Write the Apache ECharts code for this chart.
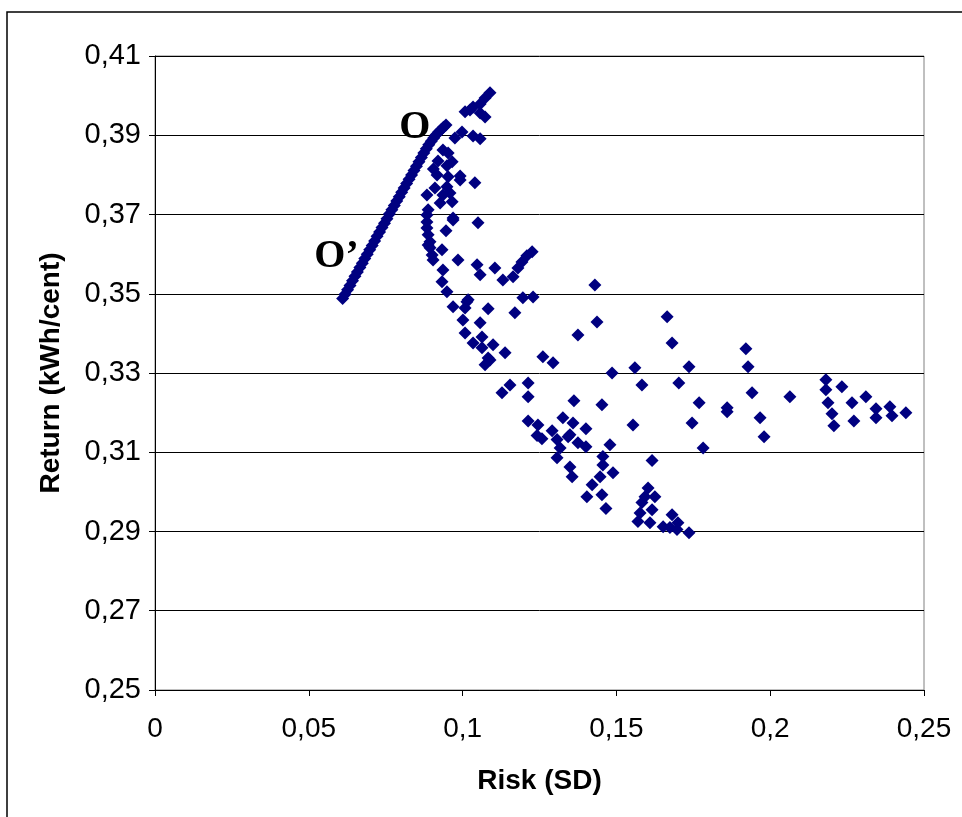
<!DOCTYPE html>
<html>
<head>
<meta charset="utf-8">
<title>Risk / Return</title>
<script src="https://cdn.jsdelivr.net/npm/echarts@6/dist/echarts.min.js"></script>
<style>
  html, body { margin: 0; padding: 0; background: #fff; }
  #chart { width: 962px; height: 817px; }
</style>
</head>
<body>
<div id="chart"></div>
<script>
// [risk (SD), return (kWh/cent)]
const frontierPoints = [
  [0.061,0.3488],[0.0618,0.3499],[0.0626,0.351],[0.0634,0.3521],[0.0642,0.3533],[0.065,0.3544],
  [0.0658,0.3555],[0.0666,0.3566],[0.0674,0.3577],[0.0682,0.3589],[0.069,0.36],[0.0698,0.3611],
  [0.0706,0.3622],[0.0714,0.3633],[0.0722,0.3645],[0.073,0.3656],[0.0738,0.3667],[0.0746,0.3678],
  [0.0754,0.3689],[0.0762,0.3701],[0.077,0.3712],[0.0778,0.3723],[0.0786,0.3734],[0.0794,0.3745],
  [0.0802,0.3756],[0.081,0.3767],[0.0818,0.3778],[0.0826,0.3789],[0.0834,0.38],[0.0842,0.3811],
  [0.085,0.3822],[0.0858,0.3833],[0.0866,0.3844],[0.0874,0.3855],[0.0882,0.3866],[0.089,0.3876],
  [0.0898,0.3885],[0.0906,0.3893],[0.0914,0.3901],[0.0922,0.3908],[0.093,0.3914],[0.0938,0.392],
  [0.0946,0.3926]
];
const upperPoints = [
  [0.1089,0.4007],[0.1073,0.3994],[0.1057,0.3979],[0.1034,0.3971],[0.1008,0.3959],[0.1024,0.3964],
  [0.1073,0.3946],[0.1057,0.3956],[0.0998,0.3908],[0.1034,0.3898],[0.1057,0.3891],[0.0975,0.3893],
  [0.0953,0.3855],[0.0966,0.3833],[0.0949,0.3823],[0.0992,0.3797],[0.0917,0.38],[0.0936,0.3863],
  [0.0905,0.3815],[0.092,0.3835],
  [0.0884,0.3749],[0.091,0.3767],[0.0936,0.3749],[0.0959,0.3754],[0.0966,0.3732],[0.0927,0.3729],
  [0.0888,0.3712],[0.0884,0.3699],[0.0884,0.3681],[0.0884,0.3666],[0.0888,0.3649],[0.0894,0.3631],
  [0.0894,0.3616],[0.0901,0.3598],[0.0904,0.3585],[0.0933,0.3611],[0.0969,0.3686],[0.105,0.3679],
  [0.0946,0.3659],[0.0985,0.3585],[0.1047,0.3573],[0.1057,0.3548],[0.1105,0.3565],[0.1131,0.3535],
  [0.0936,0.356],[0.0933,0.353],[0.0949,0.3505],[0.104,0.378],[0.0992,0.3787],[0.0949,0.377],
  [0.0953,0.3795],[0.0969,0.3691],[0.0888,0.3623]
];
const midPoints = [
  [0.1164,0.3543],[0.118,0.3565],[0.1193,0.358],[0.1209,0.3596],[0.1226,0.3606],
  [0.143,0.3522],[0.1437,0.3429],[0.1375,0.3396],[0.1018,0.3485],[0.0969,0.3467],[0.1008,0.3464],
  [0.1014,0.348],[0.1083,0.3462],[0.1196,0.349],[0.1229,0.3492],[0.117,0.3452],[0.1001,0.3434],
  [0.1057,0.3427],[0.1008,0.3401],[0.1063,0.3391],[0.1034,0.3376],[0.1063,0.3364],[0.1099,0.3371],
  [0.1083,0.3338],[0.1073,0.3321],[0.1138,0.3351],[0.1261,0.3341],[0.1294,0.3326],[0.1089,0.3333]
];
const lowerPoints = [
  [0.1681,0.3376],[0.1665,0.3442],[0.1486,0.33],[0.156,0.3313],[0.1583,0.327],[0.1736,0.3316],
  [0.1703,0.3275],[0.1154,0.327],[0.1128,0.325],[0.1213,0.3275],[0.1213,0.324],[0.1362,0.323],
  [0.1453,0.322],[0.1769,0.3225],[0.186,0.3212],[0.186,0.3202],[0.1213,0.3179],[0.1245,0.3169],
  [0.1326,0.3187],[0.1359,0.3174],[0.1401,0.3159],[0.1291,0.3154],[0.1242,0.3142],[0.1258,0.3134],
  [0.1307,0.3132],[0.1349,0.3144],[0.1375,0.3124],[0.1343,0.3139],[0.1554,0.3169],[0.1746,0.3174],
  [0.1317,0.3111],[0.1401,0.3114],[0.1479,0.3119],[0.1782,0.3111],[0.1307,0.3086],[0.1456,0.3089],
  [0.1349,0.3063],[0.1356,0.3038],[0.1456,0.3068],[0.1616,0.3079],[0.1489,0.3048],[0.1447,0.3038],
  [0.1421,0.3018],[0.1453,0.2993],[0.1404,0.2988],[0.1466,0.2958],[0.1603,0.301],[0.1625,0.2988],
  [0.1593,0.2988],[0.1583,0.2973],[0.1616,0.2955],[0.1577,0.2947],[0.157,0.2925],[0.1609,0.2922],
  [0.1681,0.2942],[0.17,0.2922],[0.1652,0.2912],[0.1674,0.291],[0.1697,0.2905],[0.1736,0.2897]
];
const rightPoints = [
  [0.1921,0.3361],[0.1928,0.3316],[0.1941,0.325],[0.1967,0.3187],[0.198,0.3139],[0.2064,0.324],
  [0.2181,0.3283],[0.2181,0.3258],[0.2233,0.3265],[0.2188,0.3225],[0.2266,0.3225],[0.2311,0.324],
  [0.2201,0.3197],[0.2207,0.3167],[0.2272,0.3179],[0.2344,0.321],[0.2344,0.3187],[0.2389,0.3215],
  [0.2396,0.3192],[0.2441,0.32]
];
// point labels: [text, risk, return]
const pointLabels = [
  ['O', 0.0845, 0.3918],
  ['O\u2019', 0.0590, 0.3594]
];

const allPoints = frontierPoints.concat(upperPoints, midPoints, lowerPoints, rightPoints);

function commaNum(v) {
  return String(Math.round(v * 1000) / 1000).replace('.', ',');
}

const myChart = echarts.init(document.getElementById('chart'));
const font = 'Arial, "Liberation Sans", sans-serif';

const option = {
  animation: false,
  backgroundColor: '#fff',
  grid: {
    left: 155, right: 38, top: 56, bottom: 127,
    show: true, borderColor: '#808080', borderWidth: 1
  },
  xAxis: {
    type: 'value', min: 0, max: 0.25, interval: 0.05,
    name: 'Risk (SD)', nameLocation: 'middle', nameGap: 77,
    nameTextStyle: { fontFamily: font, fontSize: 28, fontWeight: 'bold', color: '#000' },
    axisLine: { lineStyle: { color: '#000', width: 1 } },
    axisTick: { show: true, length: 6, lineStyle: { color: '#000' } },
    axisLabel: { formatter: commaNum, fontFamily: font, fontSize: 28, color: '#000', margin: 25 },
    splitLine: { show: false }
  },
  yAxis: {
    type: 'value', min: 0.25, max: 0.41, interval: 0.02,
    name: 'Return (kWh/cent)', nameLocation: 'middle', nameGap: 90, nameRotate: 90,
    nameTextStyle: { fontFamily: font, fontSize: 28, fontWeight: 'bold', color: '#000' },
    axisLine: { show: true, lineStyle: { color: '#000', width: 1 } },
    axisTick: { show: true, length: 6, lineStyle: { color: '#000' } },
    axisLabel: { formatter: v => v.toFixed(2).replace('.', ','), fontFamily: font, fontSize: 29, color: '#000', margin: 14 },
    splitLine: { show: true, lineStyle: { color: '#000', width: 1 } }
  },
  graphic: [{
    type: 'rect', silent: true,
    shape: { x: 7, y: 12, width: 1200, height: 1200 },
    style: { fill: 'none', stroke: '#000', lineWidth: 1.5 }
  }],
  series: [{
    type: 'scatter',
    data: allPoints,
    symbol: 'diamond',
    symbolSize: 13,
    itemStyle: { color: '#000080', opacity: 1 },
    markPoint: {
      symbol: 'circle', symbolSize: 1,
      itemStyle: { color: 'rgba(0,0,0,0)' },
      label: {
        show: true, position: 'inside', formatter: p => p.name,
        fontFamily: '"Liberation Serif", "Times New Roman", serif',
        fontSize: 40, fontWeight: 'bold', color: '#000'
      },
      data: pointLabels.map(l => ({ name: l[0], coord: [l[1], l[2]] }))
    }
  }]
};

myChart.setOption(option);
window.onresize = myChart.resize;
</script>
</body>
</html>
